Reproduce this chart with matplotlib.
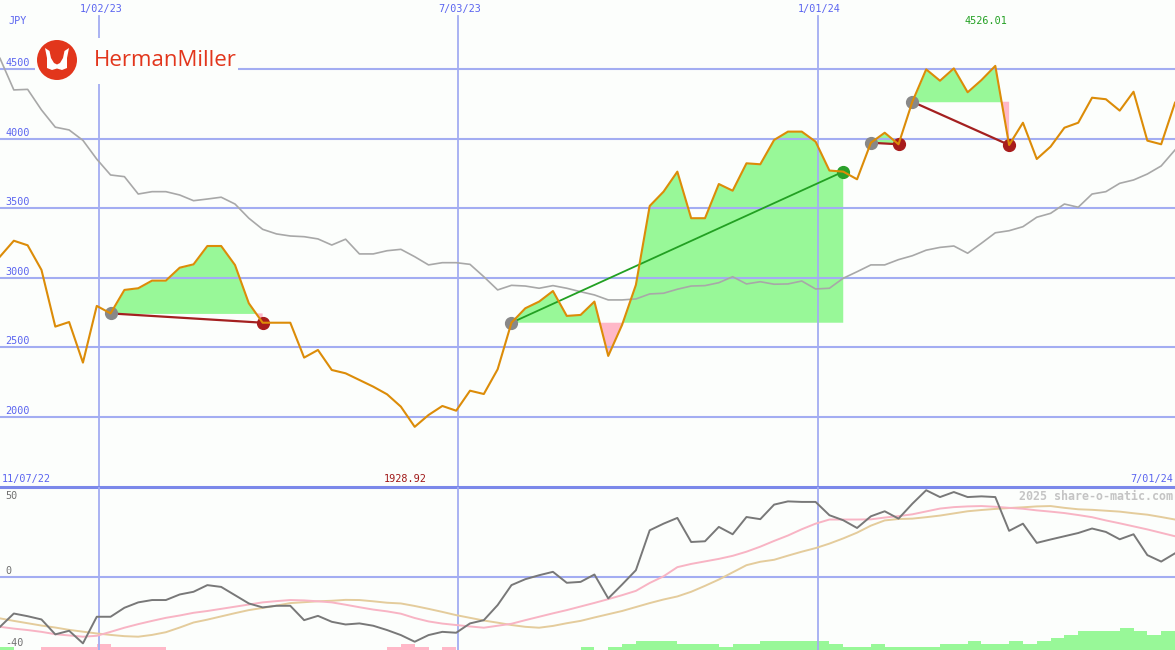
import matplotlib
matplotlib.use('Agg')
import matplotlib.pyplot as plt
import matplotlib.dates as mdates
import numpy as np
import pandas as pd
from matplotlib.patches import Circle, Polygon

# weekly closes, JPY
week0 = '2022-11-13'
price = [3154, 3268, 3235, 3058, 2650, 2683, 2391, 2799, 2745, 2914,
         2926, 2981, 2981, 3074, 3098, 3230, 3230, 3093, 2818, 2678,
         2678, 2678, 2427, 2482, 2338, 2314, 2266, 2218, 2163, 2074,
         1928.92, 2014, 2079, 2045, 2189, 2165, 2343, 2678, 2782, 2830,
         2906, 2727, 2734, 2830, 2439, 2662, 2950, 3518, 3621, 3765,
         3430, 3430, 3676, 3628, 3825, 3818, 3993, 4053, 4053, 3981,
         3773, 3765, 3710, 3973, 4045, 3962, 4268, 4501, 4419, 4508,
         4336, 4424, 4526.01, 3957, 4117, 3856, 3945, 4081, 4117, 4297,
         4286, 4204, 4340, 3988, 3962, 4261]
avg = [4580, 4353, 4357, 4209, 4085, 4065, 3990, 3855, 3741, 3729,
       3604, 3621, 3621, 3597, 3556, 3568, 3581, 3532, 3430, 3350,
       3317, 3302, 3297, 3281, 3237, 3279, 3173, 3173, 3196, 3206,
       3153, 3094, 3110, 3110, 3098, 3009, 2914, 2947, 2942, 2926,
       2945, 2926, 2901, 2878, 2842, 2842, 2849, 2885, 2890, 2919,
       2942, 2945, 2966, 3009, 2957, 2973, 2955, 2957, 2978, 2921,
       2926, 2998, 3045, 3094, 3094, 3132, 3160, 3200, 3220, 3230,
       3178, 3250, 3325, 3340, 3369, 3437, 3465, 3532, 3509, 3604,
       3621, 3681, 3705, 3748, 3806, 3921]
# (entry week, exit week)
trades = [(8, 19), (37, 61), (63, 65), (66, 73)]

osc = [-27.8, -20.4, -21.9, -23.7, -32.0, -30.0, -37.0, -22.2, -22.2, -17.2,
       -14.2, -12.9, -12.9, -9.8, -8.3, -4.6, -5.6, -10.2, -14.8, -17.0,
       -16.1, -16.1, -24.1, -21.7, -25.0, -26.5, -25.9, -27.2, -29.6, -32.4,
       -36.1, -32.4, -30.6, -31.1, -25.9, -24.1, -15.7, -4.6, -1.3, 0.9,
       2.8, -3.3, -2.8, 1.3, -12.0, -4.3, 3.7, 25.9, 29.6, 32.8,
       19.4, 19.8, 27.8, 23.7, 33.3, 32.1, 40.2, 42.0, 41.7, 41.7,
       34.3, 31.5, 27.2, 33.7, 36.5, 32.4, 40.7, 48.2, 44.4, 47.2,
       44.4, 44.8, 44.4, 25.6, 29.6, 18.9, 20.8, 22.6, 24.4, 26.9,
       25.0, 20.9, 23.7, 12.1, 8.5, 13.1]
osc_fast = [-27.8, -28.8, -29.6, -30.6, -31.9, -32.6, -33.3, -32.8, -30.6, -28.3,
            -26.3, -24.5, -22.8, -21.5, -20.0, -19.0, -17.8, -16.6, -15.4, -14.2,
            -13.5, -12.9, -13.1, -13.6, -14.2, -15.5, -16.9, -18.2, -19.2, -20.5,
            -22.9, -24.8, -26.0, -26.8, -27.6, -28.3, -27.2, -26.1, -24.1, -22.2,
            -20.3, -18.5, -16.5, -14.5, -12.4, -10.2, -7.8, -3.4, 0.3, 5.4,
            7.2, 8.6, 10.0, 11.7, 14.0, 16.8, 20.0, 23.0, 26.5, 29.6,
            31.9, 31.9, 31.9, 32.0, 33.0, 33.8, 34.8, 36.4, 38.0, 38.8,
            39.2, 39.4, 39.0, 38.4, 37.9, 37.0, 36.3, 35.5, 34.4, 33.2,
            31.4, 29.8, 28.1, 26.4, 24.5, 22.6]
osc_slow = [-23.1, -24.5, -25.8, -27.1, -28.2, -29.5, -30.5, -31.5, -32.3, -33.0,
            -33.3, -32.3, -30.8, -28.2, -25.4, -23.8, -22.0, -20.2, -18.5, -17.3,
            -16.0, -14.6, -14.1, -13.6, -13.3, -12.8, -12.9, -13.6, -14.4, -14.8,
            -16.2, -17.8, -19.5, -21.3, -22.8, -24.3, -25.5, -26.8, -27.8, -28.3,
            -27.3, -25.8, -24.5, -22.6, -20.8, -19.0, -16.8, -14.6, -12.6, -10.9,
            -8.3, -5.0, -1.5, 2.5, 6.5, 8.4, 9.5, 11.8, 14.0, 16.0,
            18.5, 21.4, 24.6, 28.5, 31.4, 32.2, 32.4, 33.2, 34.1, 35.3,
            36.5, 37.2, 37.8, 38.3, 38.7, 39.2, 39.4, 38.4, 37.6, 37.3,
            36.8, 36.3, 35.4, 34.6, 33.3, 31.9]
# momentum strip at the bottom, +green / -pink, in steps
bars = [1, 0, 0, -1, -1, -1, -1, -2, -1, -1, -1, -1,
        0, 0, 0, 0, 0, 0, 0, 0, 0, 0, 0, 0, 0, 0, 0, 0,
        -1, -2, -1, 0, -1,
        0, 0, 0, 0, 0, 0, 0, 0, 0,
        1, 0, 1, 2, 3, 3, 3, 2, 2, 2, 1, 2, 2, 3, 3, 3, 3, 3,
        2, 1, 1, 2, 1, 1, 1, 1, 2, 2, 3, 2, 2, 3, 2, 3, 4, 5,
        6, 6, 6, 7, 6, 5, 6]

grid_dates = ['2023-01-02', '2023-07-03', '2024-01-01']
grid_labels = ['1/02/23', '7/03/23', '1/01/24']
price_ticks = [2000, 2500, 3000, 3500, 4000, 4500]
osc_ticks = [-40, 0, 50]

bg = '#fcfefc'
grid_c = '#a3adf2'
blue_txt = '#5a64f0'
orange = '#dc8c08'
green_fill = '#98f898'
pink_fill = '#ffb8c8'

plt.rcParams['font.family'] = 'DejaVu Sans Mono'
plt.rcParams['font.size'] = 7.3

x = mdates.date2num(pd.date_range(week0, periods=len(price), freq='7D'))
price = np.array(price)
gx = mdates.date2num(pd.to_datetime(grid_dates))

fig = plt.figure(figsize=(11.75, 6.5), dpi=100, facecolor=bg)
ax = fig.add_axes([0, 163 / 650, 1, 487 / 650])
ax2 = fig.add_axes([0, 0, 1, 163 / 650])
for a in (ax, ax2):
    a.set_facecolor(bg)
    a.set_xlim(x[0], x[-1])
    a.set_xticks([])
    a.set_yticks([])
    for s in a.spines.values():
        s.set_visible(False)

# ---- price panel ----
ax.set_ylim(1496, 5000)
for v in price_ticks:
    ax.axhline(v, color=grid_c, lw=1.5, zorder=2)
    ax.annotate(str(v), xy=(0, v), xycoords=('axes fraction', 'data'), xytext=(5, 1),
                textcoords='offset pixels', va='bottom', color=blue_txt)
for g, lab in zip(gx, grid_labels):
    ax.axvline(g, ymax=1 - 16 / 487, color=grid_c, lw=1.3, zorder=2)
    ax.annotate(lab, xy=(g, 1), xycoords=('data', 'axes fraction'), xytext=(2, -9),
                textcoords='offset pixels', ha='center', va='center', color=blue_txt)

for a_i, b_i in trades:
    xs = x[a_i:b_i + 1]
    ps = price[a_i:b_i + 1]
    e = price[a_i]
    ax.fill_between(xs, ps, e, where=ps >= e, interpolate=True, color=green_fill, lw=0, zorder=1)
    ax.fill_between(xs, ps, e, where=ps <= e, interpolate=True, color=pink_fill, lw=0, zorder=1)
    win = price[b_i] > e
    ax.plot([x[a_i], x[b_i]], [e, price[b_i]], color='#22a022' if win else '#a42020',
            lw=1.6 if not win else 1.3, zorder=4)
    ax.plot(x[a_i], e, 'o', color='#888888', ms=8.5, zorder=5)
    ax.plot(x[b_i], price[b_i], 'o', color='#2aa02a' if win else '#a81c1c', ms=8.5, zorder=5)

ax.plot(x, avg, color='#a8a8a8', lw=1.2, zorder=3)
ax.plot(x, price, color=orange, lw=1.5, zorder=6)

imax = int(np.argmax(price))
imin = int(np.argmin(price))
ax.annotate(f'{price[imax]:.2f}', xy=(x[imax], 1), xycoords=('data', 'axes fraction'),
            xytext=(-9, -21), textcoords='offset pixels', ha='center', va='center', color='#22a022')
ax.annotate(f'{price[imin]:.2f}', xy=(x[imin], 0), xycoords=('data', 'axes fraction'),
            xytext=(-9, 8), textcoords='offset pixels', ha='center', va='center', color='#a01818')

fig.text(8 / 1175, 1 - 21 / 650, 'JPY', color=blue_txt, va='center')
fig.text(2 / 1175, 1 - 479 / 650, '11/07/22', color=blue_txt, va='center')
fig.text(1173 / 1175, 1 - 479 / 650, '7/01/24', color=blue_txt, va='center', ha='right')

# ---- oscillator panel ----
ax2.set_ylim(-40.7, 50)
ax2.axhline(0, color=grid_c, lw=1.5, zorder=2)
ax2.axhline(50, color='#7b88ea', lw=2.2, zorder=2, clip_on=False)
for g in gx:
    ax2.axvline(g, color=grid_c, lw=1.3, zorder=2)
top = ax2.get_ylim()[1]
for v in osc_ticks:
    dy = -9 if v == top else 6
    ax2.annotate(str(v), xy=(0, v), xycoords=('axes fraction', 'data'), xytext=(5, dy),
                 textcoords='offset pixels', va='center', color='#707070')

bars = np.array(bars)
step = 1.72
ax2.bar(x[:len(bars)], np.abs(bars) * step, bottom=-40.7, width=7, align='edge',
        color=np.where(bars > 0, green_fill, pink_fill), lw=0, zorder=1)
ax2.plot(x, osc_slow, color='#e4cc9c', lw=1.4, zorder=3)
ax2.plot(x, osc_fast, color='#f8b4c4', lw=1.4, zorder=3)
ax2.plot(x, osc, color='#787878', lw=1.4, zorder=4)
fig.text(1173 / 1175, 1 - 496 / 650, '2025 share-o-matic.com', color='#c4c4c4',
         ha='right', va='center', fontsize=8.4, fontweight='bold')

# ---- logo ----
lg = fig.add_axes([35 / 1175, 1 - 84 / 650, 203 / 1175, 46 / 650])
lg.set_xlim(35, 238)
lg.set_ylim(84, 38)
lg.set_facecolor(bg)
lg.set_xticks([])
lg.set_yticks([])
for s in lg.spines.values():
    s.set_visible(False)
lg.add_patch(Circle((57, 60), 20, color='#e2361c', lw=0))
lg.add_patch(Polygon([(45, 48), (47, 58), (47, 68), (52, 70), (57, 68.5), (62, 70), (67, 68),
                      (67, 58), (69, 48), (64.5, 51), (63, 58), (60, 63), (57, 64.5), (54, 63),
                      (51, 58), (49.5, 51)], closed=True, color='white', lw=0))
lg.text(94, 61, 'HermanMiller', color='#e2361c', fontsize=16, family='Open Sans',
        va='center', ha='left')

fig.savefig('out.png', dpi=100, facecolor=bg)
